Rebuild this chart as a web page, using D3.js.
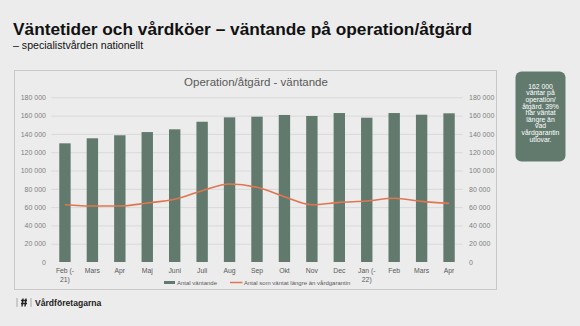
<!DOCTYPE html>
<html>
<head>
<meta charset="utf-8">
<script src="https://cdn.jsdelivr.net/npm/d3@7"></script>
<style>
  html, body { margin: 0; padding: 0; background: #ececec; }
  svg { display: block; font-family: "Liberation Sans", Arial, sans-serif; }
</style>
</head>
<body>
<svg id="chart" width="580" height="326"></svg>
<script>
const categories = ["Feb (-\n21)", "Mars", "Apr", "Maj", "Juni", "Juli", "Aug", "Sep", "Okt", "Nov", "Dec", "Jan (-\n22)", "Feb", "Mars", "Apr"];
const waiting = [129700, 135200, 138500, 142000, 145000, 153300, 158100, 158800, 160700, 159600, 162800, 157700, 162800, 161000, 162500];
const waitingLonger = [62600, 61200, 61200, 64500, 68500, 77900, 85200, 81600, 71400, 62600, 65200, 66700, 69600, 66300, 64100];
const yTicks = [0, 20000, 40000, 60000, 80000, 100000, 120000, 140000, 160000, 180000];
const seriesNames = ["Antal väntande", "Antal som väntat längre än vårdgarantin"];
const noteLines = ["162 000", "väntar på", "operation/", "åtgärd. 39%", "har väntat", "längre än", "vad", "vårdgarantin", "utlovar."];

const barColor = "#627a6e";
const lineColor = "#e07650";
const svg = d3.select("#chart");

svg.append("rect").attr("width", 580).attr("height", 326).attr("fill", "#ececec");

// Titles
svg.append("text").attr("x", 13).attr("y", 34.8)
  .attr("font-size", 17.3).attr("font-weight", "bold").attr("fill", "#111")
  .text("Väntetider och vårdköer – väntande på operation/åtgärd");
svg.append("text").attr("x", 13).attr("y", 48.6)
  .attr("font-size", 10.6).attr("fill", "#111")
  .text("– specialistvården nationellt");

// Chart panel
svg.append("rect").attr("x", 14.5).attr("y", 70.5).attr("width", 482).attr("height", 219)
  .attr("fill", "#ececec").attr("stroke", "#c8c8c8").attr("stroke-width", 1);

svg.append("text").attr("x", 256).attr("y", 86)
  .attr("text-anchor", "middle").attr("font-size", 11.5).attr("fill", "#595959")
  .text("Operation/åtgärd - väntande");

const x = d3.scaleBand().domain(d3.range(categories.length)).range([51.3, 462.7]).paddingInner(0.585).paddingOuter(0.29);
const y = d3.scaleLinear().domain([0, 180000]).range([262, 97.3]);

// Grid
svg.append("g").selectAll("line").data(yTicks.filter(d => d > 0)).join("line")
  .attr("x1", 51.3).attr("x2", 462.7)
  .attr("y1", d => y(d) + 0.5).attr("y2", d => y(d) + 0.5)
  .attr("stroke", "#d9d9d9").attr("stroke-width", 1);

const fmt = d => d === 0 ? "0" : d3.format(",")(d).replace(/,/g, " ");

// Left axis
const leftAxis = d3.axisLeft(y).tickValues(yTicks).tickFormat(fmt).tickSize(0).tickPadding(0);
const gl = svg.append("g").attr("transform", "translate(46,0)").call(leftAxis);
gl.select(".domain").remove();
gl.selectAll("text").attr("font-size", 7).attr("fill", "#7f7f7f").attr("font-family", "Liberation Sans, Arial, sans-serif");

// Right axis
const rightAxis = d3.axisRight(y).tickValues(yTicks).tickFormat(fmt).tickSize(0).tickPadding(0);
const gr = svg.append("g").attr("transform", "translate(469,0)").call(rightAxis);
gr.select(".domain").remove();
gr.selectAll("text").attr("font-size", 7).attr("fill", "#7f7f7f").attr("font-family", "Liberation Sans, Arial, sans-serif");

// Bars
svg.append("g").selectAll("rect").data(waiting).join("rect")
  .attr("x", (d, i) => x(i)).attr("width", x.bandwidth())
  .attr("y", d => y(d)).attr("height", d => y(0) - y(d))
  .attr("fill", barColor);

// Line
const line = d3.line().x((d, i) => x(i) + x.bandwidth() / 2).y(d => y(d)).curve(d3.curveMonotoneX);
svg.append("path").datum(waitingLonger).attr("d", line)
  .attr("fill", "none").attr("stroke", lineColor).attr("stroke-width", 1.6);

// X labels
const xl = svg.append("g").selectAll("text").data(categories).join("text")
  .attr("x", (d, i) => x(i) + x.bandwidth() / 2).attr("y", 273)
  .attr("text-anchor", "middle").attr("font-size", 6.8).attr("fill", "#595959");
xl.each(function(d) {
  const parts = d.split("\n");
  const t = d3.select(this);
  parts.forEach((p, k) => {
    t.append("tspan").attr("x", t.attr("x")).attr("dy", k === 0 ? 0 : 8.5).text(p);
  });
});

// Legend
svg.append("rect").attr("x", 164).attr("y", 281).attr("width", 11).attr("height", 3).attr("fill", barColor);
svg.append("text").attr("x", 177).attr("y", 284.5).attr("font-size", 6).attr("fill", "#595959").text(seriesNames[0]);
svg.append("line").attr("x1", 230).attr("x2", 242.5).attr("y1", 282.5).attr("y2", 282.5)
  .attr("stroke", lineColor).attr("stroke-width", 1.5);
svg.append("text").attr("x", 244).attr("y", 284.5).attr("font-size", 6).attr("fill", "#595959").text(seriesNames[1]);

// Note box
svg.append("rect").attr("x", 515.5).attr("y", 71.5).attr("width", 50).attr("height", 90)
  .attr("rx", 6).attr("fill", barColor);
svg.append("g").selectAll("text").data(noteLines).join("text")
  .attr("x", 540.5).attr("y", (d, i) => 88.8 + i * 6.6)
  .attr("text-anchor", "middle").attr("font-size", 6.8).attr("fill", "#ffffff")
  .text(d => d);

// Footer logo
svg.append("line").attr("x1", 17).attr("x2", 17).attr("y1", 298).attr("y2", 307).attr("stroke", "#999").attr("stroke-width", 0.8);
const logo = svg.append("g").attr("transform", "translate(24,302.5)");
logo.append("path").attr("d", "M-3,-2 L3,-2 M-3,1 L3,1 M-1,-4 L-2,4 M2,-4 L1,4")
  .attr("stroke", "#222").attr("stroke-width", 1.4).attr("fill", "none");
svg.append("line").attr("x1", 31).attr("x2", 31).attr("y1", 298).attr("y2", 307).attr("stroke", "#999").attr("stroke-width", 0.8);
svg.append("text").attr("x", 35).attr("y", 305.5).attr("font-size", 8.6).attr("font-weight", "bold").attr("fill", "#222")
  .text("Vårdföretagarna");
</script>
</body>
</html>
